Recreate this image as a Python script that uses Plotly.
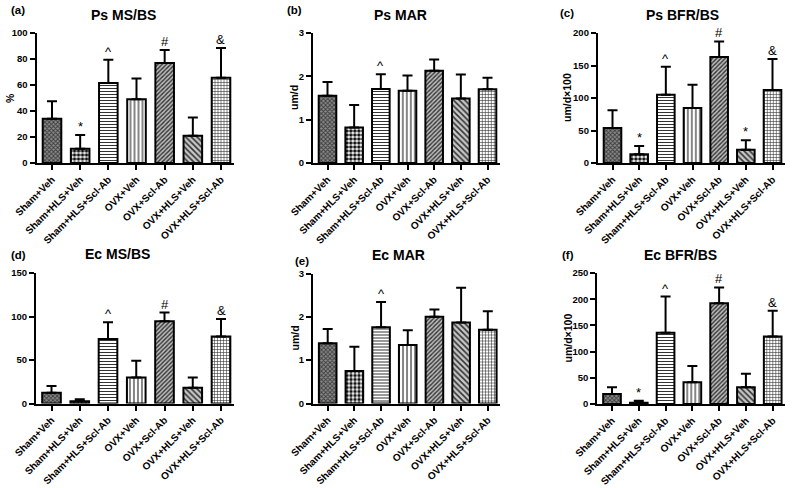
import plotly.graph_objects as go

groups = ["Sham+Veh", "Sham+HLS+Veh", "Sham+HLS+Scl-Ab", "OVX+Veh",
          "OVX+Scl-Ab", "OVX+HLS+Veh", "OVX+HLS+Scl-Ab"]

ps_msbs_mean = [34, 11, 61.5, 49, 77, 21, 65.5]
ps_msbs_top = [47.5, 21.5, 79.5, 65, 87, 35, 88.5]
ps_msbs_marks = ["", "*", "^", "", "#", "", "&"]

ps_mar_mean = [1.55, 0.82, 1.71, 1.67, 2.13, 1.49, 1.70]
ps_mar_top = [1.87, 1.34, 2.05, 2.02, 2.39, 2.04, 1.97]
ps_mar_marks = ["", "", "^", "", "", "", ""]

ps_bfr_mean = [54, 13.5, 105, 84.5, 163, 20.5, 112.5]
ps_bfr_top = [81, 26, 148, 120.5, 187, 35, 160]
ps_bfr_marks = ["", "*", "^", "", "#", "*", "&"]

ec_msbs_mean = [12.5, 2.5, 74, 30, 94.5, 18, 77]
ec_msbs_top = [20, 5, 93.5, 49, 104.5, 30, 97]
ec_msbs_marks = ["", "", "^", "", "#", "", "&"]

ec_mar_mean = [1.39, 0.75, 1.76, 1.35, 2.0, 1.87, 1.70]
ec_mar_top = [1.72, 1.31, 2.34, 1.69, 2.17, 2.67, 2.13]
ec_mar_marks = ["", "", "^", "", "", "", ""]

ec_bfr_mean = [19, 2.5, 136, 41.5, 192.5, 32, 129]
ec_bfr_top = [32, 6, 205, 72.5, 222.5, 57.5, 178]
ec_bfr_marks = ["", "*", "^", "", "#", "", "&"]

W, H = 800, 488

panels = [
    dict(lab="(a)", title="Ps MS/BS", mean=ps_msbs_mean, top=ps_msbs_top, marks=ps_msbs_marks,
         ymax=100, dtick=20, ytitle="%", c=(52, 221), y=(33, 163), tpos=(123, 15), lpos=(18, 10), ytx=10),
    dict(lab="(b)", title="Ps MAR", mean=ps_mar_mean, top=ps_mar_top, marks=ps_mar_marks,
         ymax=3, dtick=1, ytitle="um/d", c=(327.5, 487.5), y=(33, 163), tpos=(400, 15), lpos=(294, 10), ytx=294),
    dict(lab="(c)", title="Ps BFR/BS", mean=ps_bfr_mean, top=ps_bfr_top, marks=ps_bfr_marks,
         ymax=200, dtick=50, ytitle="um/d×100", c=(612.5, 772.5), y=(33, 163), tpos=(682, 15), lpos=(567, 13), ytx=567),
    dict(lab="(d)", title="Ec MS/BS", mean=ec_msbs_mean, top=ec_msbs_top, marks=ec_msbs_marks,
         ymax=150, dtick=50, ytitle="", c=(51.5, 221), y=(273, 403.5), tpos=(117, 254), lpos=(18, 255), ytx=10),
    dict(lab="(e)", title="Ec MAR", mean=ec_mar_mean, top=ec_mar_top, marks=ec_mar_marks,
         ymax=3, dtick=1, ytitle="um/d", c=(327.7, 487.8), y=(273.5, 403.5), tpos=(398, 255), lpos=(302, 261), ytx=294),
    dict(lab="(f)", title="Ec BFR/BS", mean=ec_bfr_mean, top=ec_bfr_top, marks=ec_bfr_marks,
         ymax=250, dtick=50, ytitle="um/d×100", c=(612, 772.7), y=(273, 404), tpos=(680, 255), lpos=(568, 255), ytx=567),
]

patterns = [
    dict(shape="x", size=3, solidity=0.5, fgcolor="#3a3a3a", bgcolor="#8c8c8c"),
    dict(shape=".", size=4, solidity=0.6, fgcolor="#111111", bgcolor="#ffffff"),
    dict(shape="-", size=3, solidity=0.35, fgcolor="#333333", bgcolor="#ffffff"),
    dict(shape="|", size=4, solidity=0.3, fgcolor="#333333", bgcolor="#ffffff"),
    dict(shape="/", size=3, solidity=0.45, fgcolor="#333333", bgcolor="#bdbdbd"),
    dict(shape="\\", size=4, solidity=0.4, fgcolor="#333333", bgcolor="#c8c8c8"),
    dict(shape="+", size=3, solidity=0.35, fgcolor="#333333", bgcolor="#ffffff"),
]

FONT = "Liberation Sans, Arial, sans-serif"
fig = go.Figure()
layout = dict(width=W, height=H, margin=dict(l=0, r=0, t=0, b=0, autoexpand=False),
              paper_bgcolor="white", plot_bgcolor="white", showlegend=False,
              bargap=0.34, annotations=[])

for i, p in enumerate(panels):
    k = "" if i == 0 else str(i + 1)
    xa, ya = "x" + k, "y" + k
    c1, c7 = p["c"]
    sp = (c7 - c1) / 6
    x0, x1 = c1 - 0.55 * sp, c7 + 0.45 * sp
    ytop, yzero = p["y"]
    plus = [t - m for m, t in zip(p["mean"], p["top"])]
    fig.add_trace(go.Bar(
        x=list(range(7)), y=p["mean"], xaxis=xa, yaxis=ya,
        marker=dict(color="white", line=dict(color="black", width=2),
                    pattern=dict(shape=[q["shape"] for q in patterns],
                                 size=[q["size"] for q in patterns],
                                 solidity=[q["solidity"] for q in patterns],
                                 fgcolor=[q["fgcolor"] for q in patterns],
                                 bgcolor=[q["bgcolor"] for q in patterns],
                                 fillmode="replace")),
        error_y=dict(type="data", symmetric=False, array=plus, arrayminus=[0] * 7,
                     color="black", thickness=2, width=5),
        hoverinfo="skip"))
    xfont = dict(family=FONT, size=10, color="black", weight="bold")
    yfont = dict(family=FONT, size=9.5, color="black", weight="bold")
    layout["xaxis" + k] = dict(domain=[x0 / W, x1 / W], anchor=ya, range=[-0.55, 6.45],
                               tickmode="array", tickvals=list(range(7)), ticktext=groups,
                               tickangle=-45, showline=True, linecolor="black", linewidth=2,
                               ticks="outside", ticklen=5, tickwidth=1.5, tickcolor="black",
                               tickfont=xfont, showgrid=False, zeroline=False, fixedrange=True,
                               automargin=False)
    layout["yaxis" + k] = dict(domain=[1 - yzero / H, 1 - ytop / H], anchor=xa,
                               range=[0, p["ymax"]], dtick=p["dtick"], tick0=0,
                               showline=True, linecolor="black", linewidth=2,
                               ticks="outside", ticklen=5, tickwidth=1.5, tickcolor="black",
                               tickfont=yfont, showgrid=False, zeroline=False, fixedrange=True,
                               automargin=False)
    layout["annotations"].append(dict(text="<b>%s</b>" % p["title"], x=p["tpos"][0] / W, y=1 - p["tpos"][1] / H,
                                      xref="paper", yref="paper", showarrow=False,
                                      xanchor="center", yanchor="middle",
                                      font=dict(family=FONT, size=14, color="black")))
    layout["annotations"].append(dict(text="<b>%s</b>" % p["lab"], x=p["lpos"][0] / W, y=1 - p["lpos"][1] / H,
                                      xref="paper", yref="paper", showarrow=False,
                                      xanchor="center", yanchor="middle",
                                      font=dict(family=FONT, size=11.5, color="black")))
    if p["ytitle"]:
        layout["annotations"].append(dict(text="<b>%s</b>" % p["ytitle"], x=p["ytx"] / W,
                                          y=1 - (ytop + yzero) / 2 / H, textangle=-90,
                                          xref="paper", yref="paper", showarrow=False,
                                          xanchor="center", yanchor="middle",
                                          font=dict(family=FONT, size=10.5, color="black")))
    for j, m in enumerate(p["marks"]):
        if m:
            layout["annotations"].append(dict(text=m, x=j, y=p["top"][j], xref=xa, yref=ya,
                                              xanchor="center", yanchor="bottom", yshift=-1,
                                              showarrow=False,
                                              font=dict(family=FONT, size=13, color="black")))

fig.update_layout(**layout)
fig.write_html("out.html", config={"displayModeBar": False},
               post_script="document.body.style.margin='0';document.body.style.overflow='hidden';")
